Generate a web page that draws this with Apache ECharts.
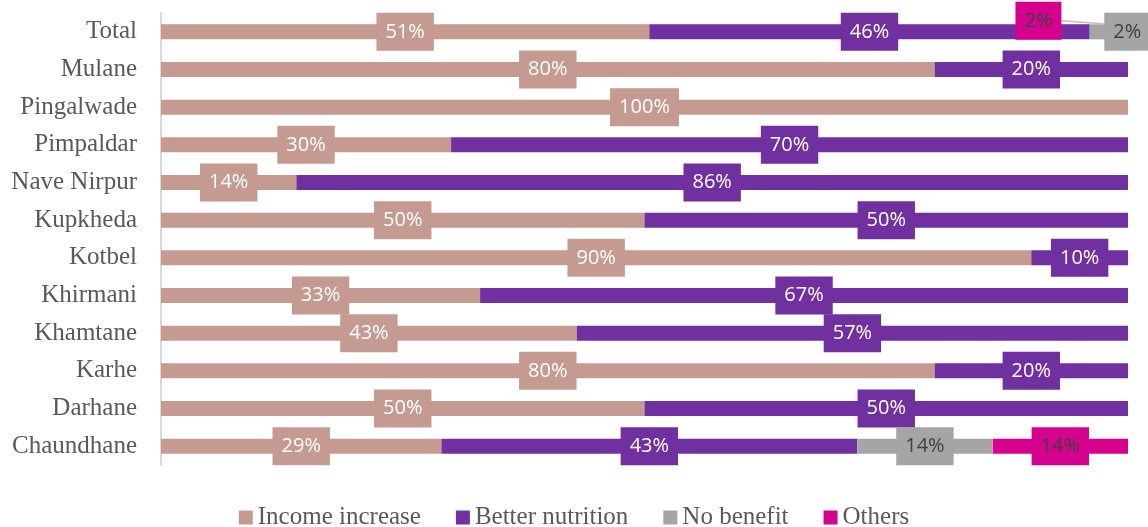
<!DOCTYPE html>
<html>
<head>
<meta charset="utf-8">
<script src="https://cdn.jsdelivr.net/npm/echarts@6/dist/echarts.min.js"></script>
<style>
  html, body { margin: 0; padding: 0; background: #fff; }
  #chart { width: 1148px; height: 527px; }
</style>
</head>
<body>
<div id="chart"></div>
<script>
// Villages surveyed (top to bottom)
const villages = ['Total', 'Mulane', 'Pingalwade', 'Pimpaldar', 'Nave Nirpur', 'Kupkheda',
  'Kotbel', 'Khirmani', 'Khamtane', 'Karhe', 'Darhane', 'Chaundhane'];

// Share of respondents (%) per benefit type
const incomeIncrease  = [51, 80, 100, 30, 14, 50, 90, 33, 43, 80, 50, 29];
const betterNutrition = [46, 20, 0, 70, 86, 50, 10, 67, 57, 20, 50, 43];
const noBenefit       = [2, 0, 0, 0, 0, 0, 0, 0, 0, 0, 0, 14];
const others          = [2, 0, 0, 0, 0, 0, 0, 0, 0, 0, 0, 14];

const seriesDefs = [
  { name: 'Income increase', values: incomeIncrease, color: '#C49A91', text: '#ffffff' },
  { name: 'Better nutrition', values: betterNutrition, color: '#7030A0', text: '#ffffff' },
  { name: 'No benefit', values: noBenefit, color: '#A5A5A5', text: '#404040' },
  { name: 'Others', values: others, color: '#D6008F', text: '#404040' }
];

// each row is drawn as a 100% stack
const rowTotals = villages.map((_, i) =>
  seriesDefs.reduce((s, d) => s + d.values[i], 0));

const chart = echarts.init(document.getElementById('chart'));

// series z order: gray label in the Total row sits above the small magenta piece
const zOrder = [2, 3, 6, 5];

const series = seriesDefs.map((d, si) => ({
  name: d.name,
  type: 'bar',
  stack: 'share',
  barWidth: 15,
  itemStyle: { color: d.color },
  emphasis: { disabled: true },
  data: d.values.map((v, i) => v > 0
    ? { value: v / rowTotals[i] * 100, raw: v }
    : { value: 0, raw: 0, label: { show: false } }),
  label: {
    show: true,
    position: 'inside',
    formatter: p => p.data.raw + '%',
    color: d.text,
    fontFamily: 'Open Sans',
    fontSize: 20,
    lineHeight: 22,
    backgroundColor: d.color,
    padding: [8, 9, 8, 9]
  },
  labelLine: { show: si === 3, lineStyle: { color: '#BFBFBF', width: 1.5 }, smooth: 0.3 },
  labelLayout: p => {
    if (p.dataIndex !== 0) return {};
    if (si === 2) return { dx: 28 };
    if (si === 3) return { dx: -80, dy: -11 };
    return {};
  },
  z: zOrder[si]
}));

chart.setOption({
  animation: false,
  grid: { left: 161, right: 20, top: 13, bottom: 62, containLabel: false },
  legend: {
    bottom: -8,
    left: 'center',
    itemWidth: 14,
    itemHeight: 14,
    itemGap: 35,
    icon: 'rect',
    textStyle: { fontFamily: 'Liberation Serif', fontSize: 25, color: '#595959' },
    data: seriesDefs.map(d => d.name)
  },
  xAxis: {
    type: 'value',
    min: 0,
    max: 100,
    show: false
  },
  yAxis: {
    type: 'category',
    inverse: true,
    data: villages,
    axisLine: { show: true, lineStyle: { color: '#D9D9D9', width: 2 } },
    axisTick: { show: false },
    axisLabel: { fontFamily: 'Liberation Serif', fontSize: 25, color: '#595959', margin: 24 }
  },
  series
});
</script>
</body>
</html>
